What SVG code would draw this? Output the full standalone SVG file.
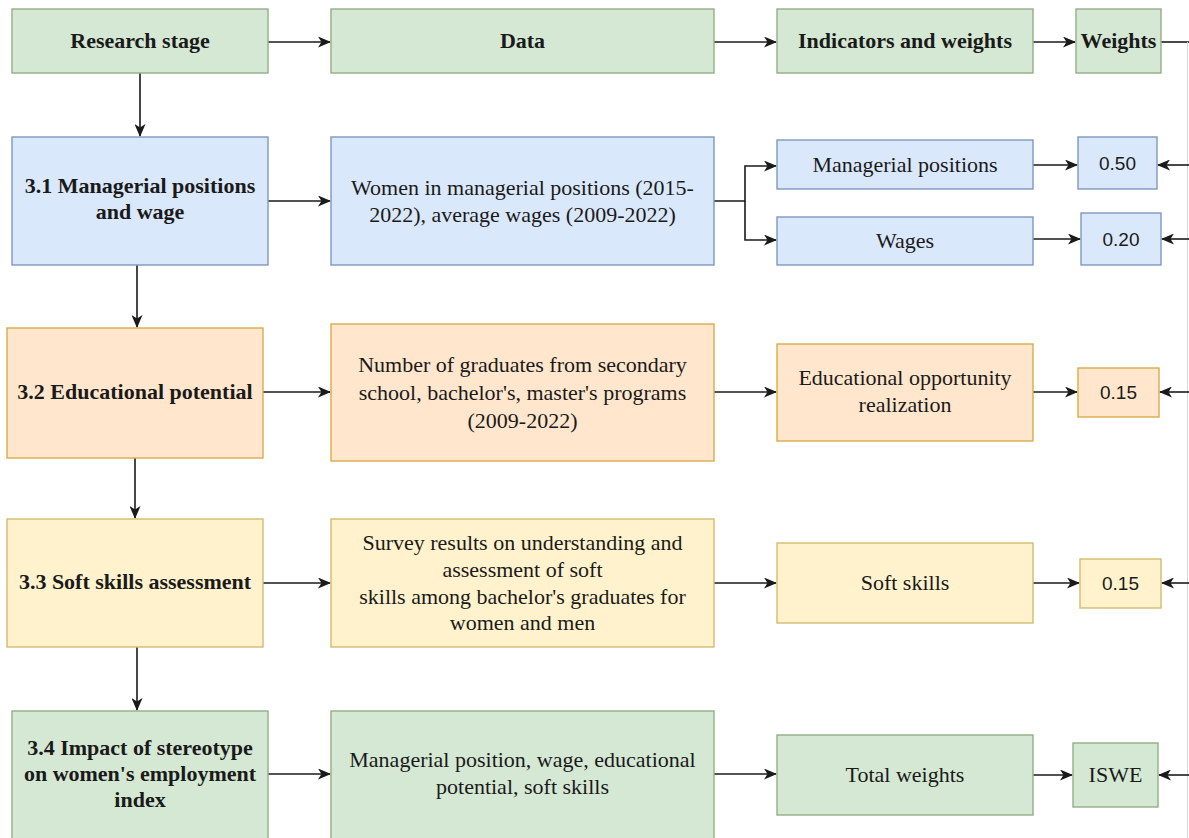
<svg xmlns="http://www.w3.org/2000/svg" width="1189" height="838" viewBox="0 0 1189 838" font-family="'Liberation Serif', Tinos, 'Times New Roman', serif">
<defs>
<style>
.g{fill:#d5e8d4;stroke:#92ae85;stroke-width:1.4}
.b{fill:#dae8fc;stroke:#7e98bd;stroke-width:1.4}
.o{fill:#ffe6cc;stroke:#d9ac4a;stroke-width:1.4}
.y{fill:#fff2cc;stroke:#d3bb70;stroke-width:1.4}
.t{font-family:'Liberation Serif', Tinos, 'Times New Roman', serif;font-size:22px;fill:#1a1a1a;text-anchor:middle}
.bd{font-weight:bold}
.sn{font-family:'Liberation Sans', Arimo, Arial, sans-serif;font-size:19px;fill:#1a1a1a;text-anchor:middle}
.c{fill:none;stroke:#1a1a1a;stroke-width:1.6}
</style>
<marker id="ar" viewBox="0 0 13 11" refX="12" refY="5.5" markerWidth="13" markerHeight="11" markerUnits="userSpaceOnUse" orient="auto">
<path d="M0,0 L13,5.5 L0,11 L3.5,5.5 Z" fill="#1a1a1a"/>
</marker>
</defs>
<rect width="1189" height="838" fill="#ffffff"/>

<g id="connectors">
<path class="c" d="M140,73 V136" marker-end="url(#ar)"/>
<path class="c" d="M137,265 V327" marker-end="url(#ar)"/>
<path class="c" d="M135,458 V518" marker-end="url(#ar)"/>
<path class="c" d="M137,647 V710" marker-end="url(#ar)"/>
<path class="c" d="M268,42 H330" marker-end="url(#ar)"/>
<path class="c" d="M714,42 H776" marker-end="url(#ar)"/>
<path class="c" d="M1033,42 H1075" marker-end="url(#ar)"/>
<path class="c" d="M1161,42 H1189"/>
<path d="M1187.5,42 V838" fill="none" stroke="#d9d9d9" stroke-width="1"/>
<path class="c" d="M268,201 H330" marker-end="url(#ar)"/>
<path class="c" d="M714,201 H745 V166 H776" marker-end="url(#ar)"/>
<path class="c" d="M745,201 V240 H776" marker-end="url(#ar)"/>
<path class="c" d="M1033,165 H1077" marker-end="url(#ar)"/>
<path class="c" d="M1033,239 H1080" marker-end="url(#ar)"/>
<path class="c" d="M1189,165 H1158" marker-end="url(#ar)"/>
<path class="c" d="M1189,239 H1162" marker-end="url(#ar)"/>
<path class="c" d="M263,392 H330" marker-end="url(#ar)"/>
<path class="c" d="M714,392 H776" marker-end="url(#ar)"/>
<path class="c" d="M1033,392 H1077" marker-end="url(#ar)"/>
<path class="c" d="M1189,392 H1160" marker-end="url(#ar)"/>
<path class="c" d="M263,583 H330" marker-end="url(#ar)"/>
<path class="c" d="M714,583 H776" marker-end="url(#ar)"/>
<path class="c" d="M1033,583 H1079" marker-end="url(#ar)"/>
<path class="c" d="M1189,583 H1162" marker-end="url(#ar)"/>
<path class="c" d="M268,774 H330" marker-end="url(#ar)"/>
<path class="c" d="M714,774 H776" marker-end="url(#ar)"/>
<path class="c" d="M1033,775 H1072" marker-end="url(#ar)"/>
<path class="c" d="M1189,775 H1159" marker-end="url(#ar)"/>
</g>

<g id="research-stage"><rect class="g" x="12" y="9" width="256" height="64"/><text class="t bd" x="140" y="48">Research stage</text></g>
<g id="data-header"><rect class="g" x="331" y="9" width="383" height="64"/><text class="t bd" x="522.5" y="48">Data</text></g>
<g id="indicators-header"><rect class="g" x="777" y="9" width="256" height="64"/><text class="t bd" x="905" y="48">Indicators and weights</text></g>
<g id="weights-header"><rect class="g" x="1076" y="9" width="85" height="64"/><text class="t bd" x="1118.5" y="48">Weights</text></g>

<g id="stage-3-1"><rect class="b" x="12" y="137" width="256" height="128"/><text class="t bd" x="140" y="193">3.1 Managerial positions</text><text class="t bd" x="140" y="219">and wage</text></g>
<g id="data-3-1"><rect class="b" x="331" y="137" width="383" height="128"/><text class="t" x="522.5" y="195">Women in managerial positions (2015-</text><text class="t" x="522.5" y="222">2022), average wages (2009-2022)</text></g>
<g id="managerial-positions"><rect class="b" x="777" y="140" width="256" height="49"/><text class="t" x="905" y="172">Managerial positions</text></g>
<g id="wages"><rect class="b" x="777" y="217" width="256" height="48"/><text class="t" x="905" y="248">Wages</text></g>
<g id="w-050"><rect class="b" x="1078" y="137" width="79" height="52"/><text class="sn" x="1117.5" y="170">0.50</text></g>
<g id="w-020"><rect class="b" x="1081" y="213" width="80" height="52"/><text class="sn" x="1121" y="246">0.20</text></g>

<g id="stage-3-2"><rect class="o" x="7" y="328" width="256" height="130"/><text class="t bd" x="135" y="399">3.2 Educational potential</text></g>
<g id="data-3-2"><rect class="o" x="331" y="324" width="383" height="137"/><text class="t" x="522.5" y="372">Number of graduates from secondary</text><text class="t" x="522.5" y="400">school, bachelor's, master's programs</text><text class="t" x="522.5" y="428">(2009-2022)</text></g>
<g id="educational-opportunity"><rect class="o" x="777" y="344" width="256" height="97"/><text class="t" x="905" y="385">Educational opportunity</text><text class="t" x="905" y="412">realization</text></g>
<g id="w-015a"><rect class="o" x="1078" y="368" width="81" height="49"/><text class="sn" x="1118.5" y="399">0.15</text></g>

<g id="stage-3-3"><rect class="y" x="7" y="519" width="256" height="128"/><text class="t bd" x="135" y="589">3.3 Soft skills assessment</text></g>
<g id="data-3-3"><rect class="y" x="331" y="519" width="383" height="128"/><text class="t" x="522.5" y="550">Survey results on understanding and</text><text class="t" x="522.5" y="577">assessment of soft</text><text class="t" x="522.5" y="604">skills among bachelor's graduates for</text><text class="t" x="522.5" y="630">women and men</text></g>
<g id="soft-skills"><rect class="y" x="777" y="543" width="256" height="80"/><text class="t" x="905" y="590">Soft skills</text></g>
<g id="w-015b"><rect class="y" x="1080" y="559" width="81" height="49"/><text class="sn" x="1120.5" y="590">0.15</text></g>

<g id="stage-3-4"><rect class="g" x="12" y="711" width="256" height="140"/><text class="t bd" x="140" y="755">3.4 Impact of stereotype</text><text class="t bd" x="140" y="781">on women's employment</text><text class="t bd" x="140" y="807">index</text></g>
<g id="data-3-4"><rect class="g" x="331" y="711" width="383" height="140"/><text class="t" x="522.5" y="767">Managerial position, wage, educational</text><text class="t" x="522.5" y="794">potential, soft skills</text></g>
<g id="total-weights"><rect class="g" x="777" y="735" width="256" height="80"/><text class="t" x="905" y="782">Total weights</text></g>
<g id="iswe"><rect class="g" x="1073" y="743" width="85" height="64"/><text class="t" x="1115.5" y="782">ISWE</text></g>
</svg>
